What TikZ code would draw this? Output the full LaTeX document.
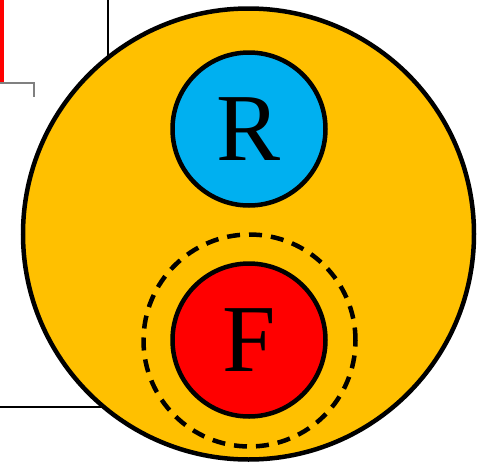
\documentclass[tikz,border=0pt]{standalone}
\usepackage{fontspec}
\setmainfont{Liberation Serif}
\definecolor{ringorange}{HTML}{FFC000}
\definecolor{rblue}{HTML}{00B0F0}
\definecolor{fred}{HTML}{FF0000}
\tikzset{
    disc/.style={circle, draw, line width=4.5pt, minimum size=153pt, inner sep=0pt, font=\fontsize{96}{96}\selectfont},
}
\begin{document}
\begin{tikzpicture}[x=1pt, y=-1pt]
    \useasboundingbox (0,0) rectangle (477,461);

    % Cut-off lines behind the ring
    \draw[fred, line width=4.5pt] (2.2,0) -- (2.2,82);
    \draw[gray, line width=2pt] (0,83) -- (34,83) -- (34,97);
    \draw[line width=2pt] (108,0) -- (108,60);
    \draw[line width=2pt] (0,407) -- (110,407);

    % Outer ring
    \node[disc, fill=ringorange, minimum size=451pt] (Ring) at (248.5,234) {};

    % Inner circles
    \node[disc, fill=rblue] (R) at (249,129) {R};
    \node[disc, dashed, dash pattern=on 13pt off 9pt, minimum size=212pt] (Zone) at (249.5,340.5) {};
    \node[disc, fill=fred] (F) at (249,340) {F};

\end{tikzpicture}
\end{document}
